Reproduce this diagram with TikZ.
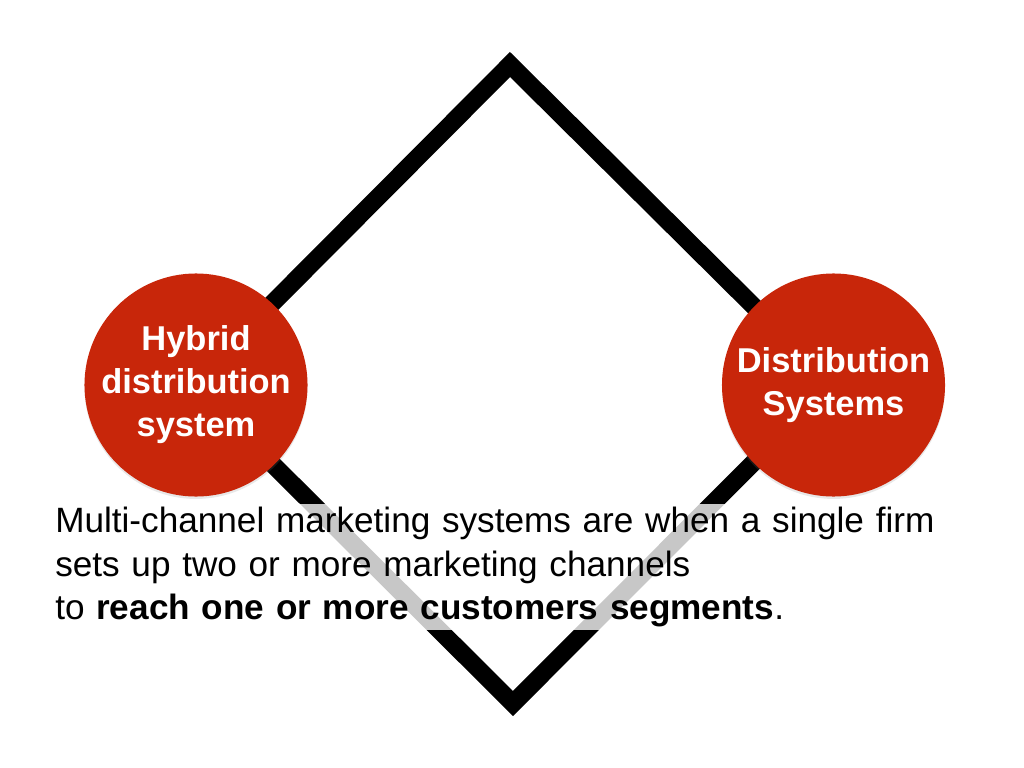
\documentclass[tikz,border=0pt]{standalone}
\usepackage{fontspec}
\setmainfont{Liberation Sans}
\usepackage{tikz}
\usetikzlibrary{shadows}
\definecolor{brick}{RGB}{200,38,10}

\tikzset{
  hub/.style={circle, fill=brick, minimum size=5.575cm, inner sep=0pt, align=center,
    text=white, font=\fontsize{24.5}{30.6}\selectfont\bfseries,
    drop shadow={opacity=0.18, shadow xshift=0pt, shadow yshift=-0.06cm}},
  frame/.style={line width=12.6pt, line join=miter, draw=black}
}

\begin{document}
\begin{tikzpicture}[x=0.025cm, y=-0.025cm]
        \useasboundingbox (0,0) rectangle (1024,768);

        % Diamond corners
        \coordinate (apex) at (510,64.5);
        \coordinate (east) at (832,384);
        \coordinate (foot) at (513,703.5);
        \coordinate (west) at (192,384);
        \draw[frame] (apex) -- (east) -- (foot) -- (west) -- cycle;

        % Left circle
        \node[hub] (hybrid) at (196,385) {Hybrid\\distribution\\system};

        % Right circle
        \node[hub] (distsys) at (833.5,385) {Distribution\\Systems};

        % Text box over the diamond
        \node[anchor=west, fill=white, fill opacity=0.78, text opacity=1,
              text width=22.6cm, minimum height=3.15cm, inner xsep=0.125cm, inner ysep=0pt,
              align=left, font=\fontsize{25}{31}\selectfont] (caption) at (50,567)
          {Multi-channel marketing systems are when a single firm\\
           sets up two or more marketing channels\\
           to \textbf{reach one or more customers segments}.};
\end{tikzpicture}
\end{document}
